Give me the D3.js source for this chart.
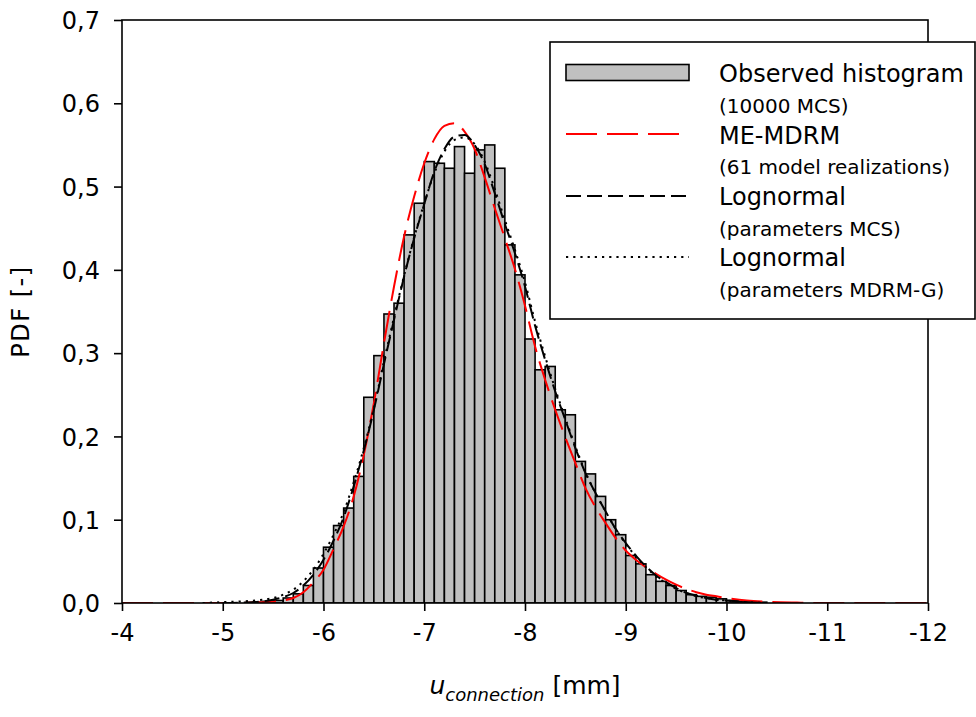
<!DOCTYPE html>
<html>
<head>
<meta charset="utf-8">
<script src="https://cdn.jsdelivr.net/npm/d3@7"></script>
<style>
  body { margin: 0; background: #fff; }
  svg text { font-family: "DejaVu Sans", sans-serif; fill: #000; }
</style>
</head>
<body>
<svg id="chart" width="976" height="717"></svg>
<script>
// observed histogram: bin start (bins are 0.1 mm wide, towards more negative u) and PDF
var binStart = [-5.3, -5.4, -5.5, -5.6, -5.7, -5.8, -5.9, -6.0, -6.1, -6.2, -6.3, -6.4, -6.5, -6.6, -6.7,
  -6.8, -6.9, -7.0, -7.1, -7.2, -7.3, -7.4, -7.5, -7.6, -7.7, -7.8, -7.9, -8.0, -8.1, -8.2, -8.3, -8.4,
  -8.5, -8.6, -8.7, -8.8, -8.9, -9.0, -9.1, -9.2, -9.3, -9.4, -9.5, -9.6, -9.7, -9.8, -9.9, -10.0, -10.1,
  -10.2, -10.3];
var binPdf = [0.001, 0.002, 0.003, 0.006, 0.011, 0.021, 0.042, 0.067, 0.093, 0.114, 0.152, 0.247, 0.297,
  0.347, 0.360, 0.442, 0.480, 0.530, 0.528, 0.522, 0.548, 0.516, 0.544, 0.550, 0.522, 0.430, 0.394, 0.317,
  0.280, 0.284, 0.232, 0.226, 0.170, 0.155, 0.128, 0.100, 0.082, 0.057, 0.047, 0.034, 0.026, 0.021, 0.015,
  0.010, 0.008, 0.007, 0.005, 0.003, 0.002, 0.001, 0.001];

// ME-MDRM (61 model realizations)
var meX = [-4, -4.5, -5, -5.3, -5.5, -5.6, -5.7, -5.8, -5.9, -6.0, -6.1, -6.2, -6.3, -6.4, -6.5, -6.6, -6.7,
  -6.8, -6.9, -7.0, -7.1, -7.2, -7.3, -7.4, -7.5, -7.6, -7.7, -7.8, -7.9, -8.0, -8.1, -8.2, -8.3, -8.4,
  -8.5, -8.6, -8.7, -8.8, -8.9, -9.0, -9.1, -9.2, -9.3, -9.4, -9.5, -9.6, -9.7, -9.8, -9.9, -10.0, -10.2,
  -10.4, -10.7, -11.0, -11.5, -12];
var mePdf = [0, 0, 0, 0.0005, 0.0015, 0.003, 0.006, 0.013, 0.025, 0.040, 0.065, 0.092, 0.128, 0.178, 0.240,
  0.312, 0.380, 0.440, 0.488, 0.528, 0.557, 0.573, 0.576, 0.566, 0.545, 0.511, 0.474, 0.438, 0.401, 0.357,
  0.308, 0.268, 0.232, 0.199, 0.168, 0.138, 0.115, 0.096, 0.078, 0.063, 0.052, 0.043, 0.035, 0.028, 0.022,
  0.017, 0.013, 0.010, 0.008, 0.006, 0.003, 0.0015, 0.0005, 0, 0, 0];

// Lognormal (parameters MCS)
var lnMcsX = [-5.0, -5.2, -5.4, -5.5, -5.6, -5.7, -5.8, -5.9, -6.0, -6.1, -6.2, -6.3, -6.4, -6.5, -6.6, -6.7,
  -6.8, -6.9, -7.0, -7.1, -7.2, -7.3, -7.4, -7.5, -7.6, -7.7, -7.8, -7.9, -8.0, -8.1, -8.2, -8.3, -8.4,
  -8.5, -8.6, -8.7, -8.8, -8.9, -9.0, -9.1, -9.2, -9.3, -9.4, -9.5, -9.6, -9.7, -9.8, -9.9, -10.0, -10.2,
  -10.4];
var lnMcsPdf = [0, 0.0005, 0.002, 0.004, 0.007, 0.012, 0.021, 0.034, 0.052, 0.075, 0.103, 0.140, 0.183,
  0.232, 0.287, 0.340, 0.392, 0.438, 0.479, 0.518, 0.545, 0.560, 0.562, 0.550, 0.527, 0.492, 0.455, 0.420,
  0.380, 0.333, 0.292, 0.254, 0.220, 0.186, 0.156, 0.132, 0.110, 0.089, 0.072, 0.057, 0.044, 0.033, 0.025,
  0.018, 0.012, 0.009, 0.006, 0.004, 0.003, 0.001, 0];

// Lognormal (parameters MDRM-G)
var lnMdrmX = [-4.8, -5.0, -5.2, -5.4, -5.5, -5.6, -5.7, -5.8, -5.9, -6.0, -6.1, -6.2, -6.3, -6.4, -6.5,
  -6.6, -6.7, -6.8, -6.9, -7.0, -7.1, -7.2, -7.3, -7.4, -7.5, -7.6, -7.7, -7.8, -7.9, -8.0, -8.1, -8.2,
  -8.3, -8.4, -8.5, -8.6, -8.7, -8.8, -8.9, -9.0, -9.1, -9.2, -9.3, -9.4, -9.5, -9.6, -9.7, -9.8, -9.9,
  -10.0, -10.2, -10.4];
var lnMdrmPdf = [0, 0.001, 0.002, 0.004, 0.006, 0.010, 0.016, 0.026, 0.040, 0.059, 0.082, 0.109, 0.145,
  0.186, 0.234, 0.290, 0.343, 0.393, 0.439, 0.480, 0.516, 0.542, 0.556, 0.559, 0.551, 0.530, 0.497, 0.460,
  0.424, 0.385, 0.338, 0.296, 0.257, 0.222, 0.188, 0.157, 0.132, 0.110, 0.089, 0.071, 0.056, 0.043, 0.032,
  0.024, 0.017, 0.012, 0.008, 0.006, 0.004, 0.003, 0.001, 0];

var xTicks = [-4, -5, -6, -7, -8, -9, -10, -11, -12];
var yTicks = [0, 0.1, 0.2, 0.3, 0.4, 0.5, 0.6, 0.7];

var svg = d3.select("#chart");
var plotLeft = 122, plotRight = 928, plotTop = 20, plotBottom = 603;

var x = d3.scaleLinear().domain([-4, -12]).range([plotLeft, plotRight]);
var y = d3.scaleLinear().domain([0, 0.7]).range([plotBottom, plotTop]);

svg.append("defs").append("clipPath").attr("id", "plotClip")
  .append("rect").attr("x", plotLeft).attr("y", plotTop)
  .attr("width", plotRight - plotLeft).attr("height", plotBottom - plotTop);

var plot = svg.append("g").attr("clip-path", "url(#plotClip)");

// histogram bars
var bins = binStart.map((s, i) => ({ start: s, pdf: binPdf[i] }));
plot.selectAll("rect.bar")
  .data(bins)
  .enter()
  .append("rect")
  .attr("class", "bar")
  .attr("x", (d) => x(d.start))
  .attr("width", (d) => x(d.start - 0.1) - x(d.start))
  .attr("y", (d) => y(d.pdf))
  .attr("height", (d) => y(0) - y(d.pdf))
  .attr("fill", "#c0c0c0")
  .attr("stroke", "#000")
  .attr("stroke-width", 1.6);

// fitted curves
var curves = [
  { xs: meX, ys: mePdf, color: "#ff0000", width: 2, dash: "31,10" },
  { xs: lnMcsX, ys: lnMcsPdf, color: "#000", width: 2, dash: "15,6" },
  { xs: lnMdrmX, ys: lnMdrmPdf, color: "#000", width: 2, dash: "2.2,5" }
];
var line = d3.line()
  .x((d) => x(d[0]))
  .y((d) => y(d[1]))
  .curve(d3.curveMonotoneX);
curves.forEach((c) => {
  plot.append("path")
    .datum(c.xs.map((v, i) => [v, c.ys[i]]))
    .attr("d", line)
    .attr("fill", "none")
    .attr("stroke", c.color)
    .attr("stroke-width", c.width)
    .attr("stroke-dasharray", c.dash);
});

// axes
var xAxis = d3.axisBottom(x).tickValues(xTicks).tickSize(8).tickSizeOuter(0)
  .tickFormat((d) => String(d));
var yAxis = d3.axisLeft(y).tickValues(yTicks).tickSize(8).tickSizeOuter(0)
  .tickFormat((d) => d3.format(".1f")(d).replace(".", ","));

var gx = svg.append("g").attr("transform", `translate(0,${plotBottom})`).call(xAxis);
var gy = svg.append("g").attr("transform", `translate(${plotLeft},0)`).call(yAxis);
[gx, gy].forEach((g) => {
  g.select(".domain").remove();
  g.selectAll(".tick line").attr("stroke", "#000").attr("stroke-width", 1.6);
  g.selectAll(".tick text").attr("font-size", 24).attr("font-family", "DejaVu Sans").attr("fill", "#000");
});
gx.selectAll(".tick text").attr("dy", null).attr("y", 38);
gy.selectAll(".tick text").attr("x", -22).attr("dy", "0.36em");

// frame
svg.append("rect")
  .attr("x", plotLeft).attr("y", plotTop)
  .attr("width", plotRight - plotLeft).attr("height", plotBottom - plotTop)
  .attr("fill", "none").attr("stroke", "#000").attr("stroke-width", 1.6);

// axis titles
var xt = svg.append("text").attr("x", (plotLeft + plotRight) / 2).attr("y", 694)
  .attr("text-anchor", "middle").attr("font-size", 25);
xt.append("tspan").attr("font-style", "italic").text("u");
xt.append("tspan").attr("font-style", "italic").attr("font-size", 18).attr("dy", 7).text("connection");
xt.append("tspan").attr("dy", -7).text(" [mm]");

svg.append("text")
  .attr("transform", `translate(29,${(plotTop + plotBottom) / 2}) rotate(-90)`)
  .attr("text-anchor", "middle")
  .attr("font-size", 24)
  .attr("letter-spacing", 1.5)
  .text("PDF [-]");

// legend
var legend = svg.append("g");
legend.append("rect")
  .attr("x", 550).attr("y", 42).attr("width", 425).attr("height", 277)
  .attr("fill", "#fff").attr("stroke", "#000").attr("stroke-width", 1.6);

var legendItems = [
  { title: "Observed histogram", note: "(10000 MCS)" },
  { title: "ME-MDRM", note: "(61 model realizations)" },
  { title: "Lognormal", note: "(parameters MCS)" },
  { title: "Lognormal", note: "(parameters MDRM-G)" }
];
var rowY = [82, 143.5, 205, 266];
legendItems.forEach((d, i) => {
  legend.append("text").attr("x", 719).attr("y", rowY[i]).attr("font-size", 24).text(d.title);
  legend.append("text").attr("x", 719).attr("y", rowY[i] + 30.5).attr("font-size", 20).text(d.note);
});
legend.append("rect")
  .attr("x", 566).attr("y", 64.5).attr("width", 123).attr("height", 16)
  .attr("fill", "#c0c0c0").attr("stroke", "#000").attr("stroke-width", 1.6);
curves.forEach((c, i) => {
  var ly = [134, 196, 257][i];
  legend.append("line")
    .attr("x1", 566).attr("x2", i === 0 ? 679 : 689)
    .attr("y1", ly).attr("y2", ly)
    .attr("stroke", c.color)
    .attr("stroke-width", c.width)
    .attr("stroke-dasharray", c.dash);
});
</script>
</body>
</html>
